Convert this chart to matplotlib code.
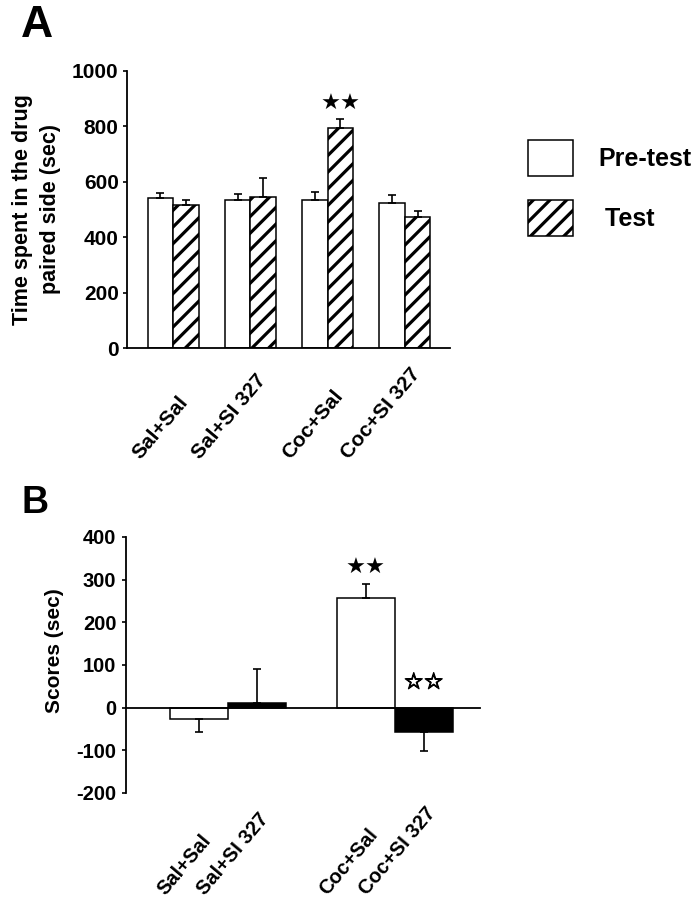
import matplotlib
matplotlib.use("Agg")
import matplotlib.pyplot as plt
import numpy as np
from matplotlib.transforms import ScaledTranslation
from matplotlib.patches import Patch
import matplotlib.patheffects as pe

plt.rcParams['font.family'] = ['Liberation Sans', 'DejaVu Sans']
plt.rcParams['font.weight'] = 'bold'
plt.rcParams['hatch.linewidth'] = 2.3
plt.rcParams['axes.unicode_minus'] = False

# ---- Data ----
groups = ["Sal+Sal", "Sal+SI 327", "Coc+Sal", "Coc+SI 327"]
pretest = [541, 534, 534, 522]
pretest_err = [20, 21, 30, 30]
test = [516, 546, 795, 472]
test_err = [18, 67, 31, 24]

scores = [-27, 10, 258, -58]
scores_err = [29, 81, 33, 43]
score_colors = ["white", "black", "white", "black"]

yticks_a = [0, 200, 400, 600, 800, 1000]
yticks_b = [-200, -100, 0, 100, 200, 300, 400]

W, H = 693, 900
fig = plt.figure(figsize=(W / 100, H / 100), dpi=100)

def fx(px):
    return px / W

def fy(py):
    return 1 - py / H

err_kw = dict(elinewidth=1.2, capthick=1.2, ecolor="black")

# ---- Panel A ----
axA = fig.add_axes([fx(127), fy(348), fx(450) - fx(127), fy(71) - fy(348)])
centers = np.arange(len(groups)) * 3.0
bw = 1.0
axA.bar(centers - bw / 2, pretest, bw, color="white", edgecolor="black", linewidth=1.1,
        yerr=[np.zeros(len(pretest)), pretest_err], capsize=3,
        error_kw=err_kw, label="Pre-test", zorder=2)
axA.bar(centers + bw / 2, test, bw, color="white", edgecolor="black", linewidth=1.1, hatch="//",
        yerr=[np.zeros(len(test)), test_err], capsize=3,
        error_kw=err_kw, label="Test", zorder=2)
axA.set_xlim(-1.8, centers[-1] + 1.76)
axA.set_ylim(0, 1000)
axA.set_yticks(yticks_a)
axA.tick_params(axis='y', labelsize=15, direction='out', length=3, width=1.2, pad=3)
axA.spines['top'].set_visible(False)
axA.spines['right'].set_visible(False)
axA.spines['left'].set_linewidth(1.3)
axA.spines['bottom'].set_linewidth(1.3)
axA.set_ylabel("Time spent in the drug\npaired side (sec)", fontsize=15.5, fontweight='bold',
               linespacing=1.45, labelpad=8)
axA.set_xticks(centers)
axA.set_xticklabels(groups, rotation=50, ha='right', va='bottom', fontsize=15)
axA.tick_params(axis='x', length=0, pad=0)
offA = ScaledTranslation(0.19, -1.15, fig.dpi_scale_trans)
for lab in axA.get_xticklabels():
    lab.set_transform(lab.get_transform() + offA)

# stars over Coc+Sal test bar
axA.annotate("★★", xy=(centers[2] + bw / 2, test[2] + test_err[2]), xytext=(0, 11),
             textcoords='offset points', ha='center', va='center', fontsize=16,
             family='DejaVu Sans')

# legend
handles = [Patch(facecolor='white', edgecolor='black', linewidth=1.1),
           Patch(facecolor='white', edgecolor='black', linewidth=1.1, hatch='//')]
fig.legend(handles, ["Pre-test", " Test"], loc='upper left',
           bbox_to_anchor=(fx(528), fy(140)), frameon=False,
           handlelength=1.8, handleheight=1.85, handletextpad=1.0, labelspacing=0.95,
           borderpad=0, borderaxespad=0, prop=dict(weight='bold', size=18))

fig.text(fx(21), fy(37), "A", fontsize=32, fontweight='bold', ha='left', va='baseline')

# ---- Panel B ----
axB = fig.add_axes([fx(126), fy(793), fx(480) - fx(126), fy(537) - fy(793)])
pos_b = np.array([-0.5, 0.5, 2.38, 3.38])
lower = [e if v < 0 else 0 for v, e in zip(scores, scores_err)]
upper = [e if v >= 0 else 0 for v, e in zip(scores, scores_err)]
axB.bar(pos_b, scores, 1.0, color=score_colors, edgecolor="black", linewidth=1.1,
        yerr=[lower, upper], capsize=3, error_kw=err_kw, zorder=2)
axB.set_xlim(-1.76, 4.35)
axB.set_ylim(-200, 400)
axB.set_yticks(yticks_b)
axB.tick_params(axis='y', labelsize=14.5, direction='out', length=3, width=1.2, pad=4)
axB.spines['top'].set_visible(False)
axB.spines['right'].set_visible(False)
axB.spines['bottom'].set_position(('data', 0))
axB.spines['left'].set_linewidth(1.3)
axB.spines['bottom'].set_linewidth(1.3)
axB.spines['bottom'].set_zorder(3)
axB.set_ylabel("Scores (sec)", fontsize=15, fontweight='bold')
axB.yaxis.set_label_coords(-0.175, 0.555)
axB.set_xticks(pos_b)
axB.set_xticklabels(groups, rotation=50, ha='right', va='bottom', fontsize=14.5)
axB.tick_params(axis='x', length=0, pad=0)
# labels sit below the axes (not at the zero spine)
for lab in axB.get_xticklabels():
    lab.set_transform(axB.get_xaxis_transform() + ScaledTranslation(0.16, -1.06, fig.dpi_scale_trans))

axB.annotate("★★", xy=(pos_b[2], scores[2] + scores_err[2]), xytext=(0, 11),
             textcoords='offset points', ha='center', va='center', fontsize=16,
             family='DejaVu Sans')
axB.annotate("☆☆", xy=(pos_b[3], 0), xytext=(0, 18),
             textcoords='offset points', ha='center', va='center', fontsize=16,
             family='DejaVu Sans',
             path_effects=[pe.withStroke(linewidth=0.9, foreground='black')])

fig.text(fx(21), fy(513), "B", fontsize=27, fontweight='bold', ha='left', va='baseline')

fig.savefig("out.png", dpi=100)
